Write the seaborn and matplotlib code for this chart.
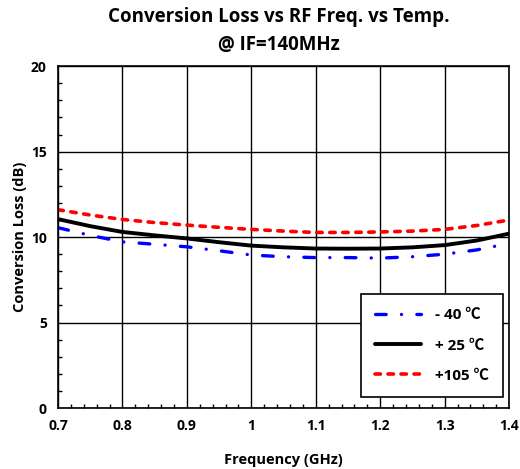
import numpy as np
import pandas as pd
import seaborn as sns
import matplotlib
matplotlib.use("Agg")
import matplotlib.pyplot as plt
from matplotlib.ticker import MultipleLocator
from matplotlib.lines import Line2D

freq = [0.70, 0.75, 0.80, 0.85, 0.90, 0.95, 1.00, 1.05, 1.10, 1.15, 1.20, 1.25, 1.30, 1.35, 1.40]
loss_m40 = [10.55, 10.10, 9.72, 9.58, 9.43, 9.20, 8.95, 8.85, 8.80, 8.80, 8.77, 8.85, 9.00, 9.25, 9.63]
loss_p25 = [11.05, 10.64, 10.30, 10.10, 9.92, 9.70, 9.50, 9.40, 9.33, 9.32, 9.33, 9.40, 9.53, 9.80, 10.20]
loss_p105 = [11.60, 11.29, 11.03, 10.85, 10.70, 10.57, 10.45, 10.35, 10.27, 10.27, 10.30, 10.35, 10.45, 10.68, 11.00]
labels = ["- 40 \u2103", "+ 25 \u2103", "+105 \u2103"]
colors = ["#0000FF", "#000000", "#FF0000"]
xtick_vals = [0.7, 0.8, 0.9, 1.0, 1.1, 1.2, 1.3, 1.4]
xtick_labels = ["0.7", "0.8", "0.9", "1", "1.1", "1.2", "1.3", "1.4"]

df = pd.DataFrame({
    "freq": freq * 3,
    "loss": loss_m40 + loss_p25 + loss_p105,
    "temp": [labels[0]] * len(freq) + [labels[1]] * len(freq) + [labels[2]] * len(freq),
})

sns.set_theme(style="white")
plt.rcParams["font.family"] = ["Open Sans", "Noto Sans CJK KR", "DejaVu Sans"]
plt.rcParams["text.color"] = "black"
plt.rcParams["axes.labelcolor"] = "black"
plt.rcParams["xtick.color"] = "black"
plt.rcParams["ytick.color"] = "black"

fig = plt.figure(figsize=(5.2, 4.69), dpi=100)
ax = fig.add_axes([0.1115, 0.130, 0.8675, 0.729])

sns.lineplot(data=df, x="freq", y="loss", hue="temp", palette=dict(zip(labels, colors)),
             hue_order=labels, ax=ax, legend=False, sort=True)

styles = [(0, (3.2, 4.6, 0.01, 4.6)), "-", (0, (1.5, 2.1))]
widths = [2.4, 2.8, 2.6]
for line, st, w in zip(ax.lines, styles, widths):
    line.set_linestyle(st)
    line.set_linewidth(w)
    line.set_dash_capstyle("round")

ax.set_xlim(0.7, 1.4)
ax.set_ylim(0, 20)
ax.xaxis.set_minor_locator(MultipleLocator(0.02))
ax.yaxis.set_major_locator(MultipleLocator(5))
ax.yaxis.set_minor_locator(MultipleLocator(1))
ax.set_xticks(xtick_vals)
ax.set_xticklabels(xtick_labels)
ax.grid(True, which="major", color="black", linewidth=1.0)
ax.tick_params(which="minor", direction="in", length=3, width=1, color="black", bottom=True, left=True)
ax.tick_params(which="major", direction="in", length=0, labelsize=10)
ax.tick_params(axis="x", which="major", pad=8)
ax.tick_params(axis="y", which="major", pad=8)
for lab in ax.get_xticklabels() + ax.get_yticklabels():
    lab.set_fontweight("bold")
for s in ax.spines.values():
    s.set_color("black")
    s.set_linewidth(1.2)

ax.set_xlabel("Frequency (GHz)", fontsize=10.5, fontweight="bold", labelpad=14)
ax.set_ylabel("Conversion Loss (dB)", fontsize=10.5, fontweight="bold", labelpad=3)

fig.text(0.537, 0.963, "Conversion Loss vs RF Freq. vs Temp.", ha="center", va="center",
         fontsize=13.5, fontweight="bold")
fig.text(0.537, 0.905, "@ IF=140MHz", ha="center", va="center", fontsize=13.5, fontweight="bold")

handles = [Line2D([], [], color=c, linestyle=st, linewidth=w, dash_capstyle="round")
           for c, st, w in zip(colors, styles, widths)]
leg = ax.legend(handles, labels, loc="lower right", bbox_to_anchor=(0.987, 0.032),
                borderaxespad=0, fancybox=False, framealpha=1, edgecolor="black",
                handlelength=3.0, labelspacing=1.05, borderpad=0.95, handletextpad=0.9,
                prop={"weight": "bold", "size": 11})
leg.get_frame().set_linewidth(1.2)

fig.savefig("out.png", dpi=100)
